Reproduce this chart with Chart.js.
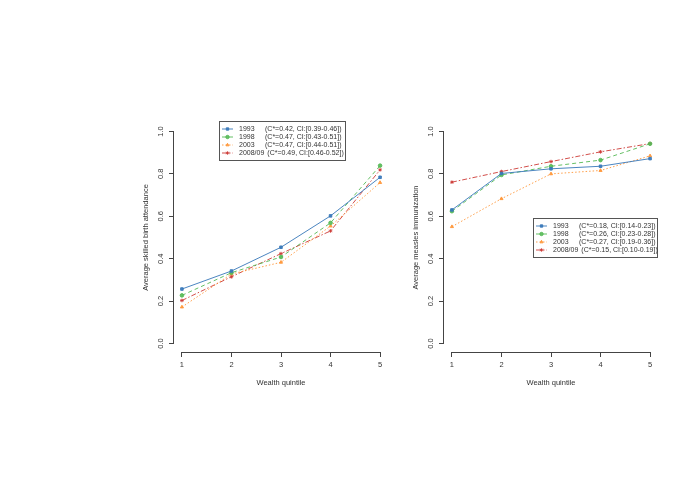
<!DOCTYPE html>
<html>
<head>
<meta charset="utf-8">
<script src="https://cdn.jsdelivr.net/npm/chart.js@4.4.1/dist/chart.umd.min.js"></script>
<style>
  body { margin: 0; background: #fff; width: 685px; height: 484px; overflow: hidden; position: relative; }
  canvas { position: absolute; }
</style>
</head>
<body>
<canvas id="birth"></canvas>
<canvas id="measles"></canvas>
<script>
// x categories (wealth quintile) and y ticks
const quintiles = [1, 2, 3, 4, 5];
const yTicks = [0, 0.2, 0.4, 0.6, 0.8, 1.0];
const years = ['1993', '1998', '2003', '2008/09'];

// left panel: skilled birth attendance
const birth1993 = [0.257, 0.342, 0.454, 0.602, 0.784];
const birth1998 = [0.227, 0.334, 0.408, 0.569, 0.839];
const birth2003 = [0.172, 0.328, 0.383, 0.554, 0.759];
const birth2008 = [0.203, 0.315, 0.424, 0.531, 0.819];
const birthStats = ['(C*=0.42, CI:[0.39-0.46])', '(C*=0.47, CI:[0.43-0.51])',
                    '(C*=0.47, CI:[0.44-0.51])', '(C*=0.49, CI:[0.46-0.52])'];

// right panel: measles immunization
const measles1993 = [0.630, 0.802, 0.824, 0.836, 0.872];
const measles1998 = [0.624, 0.795, 0.836, 0.865, 0.942];
const measles2003 = [0.551, 0.683, 0.800, 0.816, 0.885];
const measles2008 = [0.761, 0.811, 0.858, 0.904, 0.943];
const measlesStats = ['(C*=0.18, CI:[0.14-0.23])', '(C*=0.26, CI:[0.23-0.28])',
                      '(C*=0.27, CI:[0.19-0.36])', '(C*=0.15, CI:[0.10-0.19])'];

// per-series look
const colors = ['rgba(55,120,185,0.9)', 'rgba(85,185,85,0.9)', 'rgba(255,150,55,0.9)', 'rgba(205,60,55,0.9)'];
const dashes = [[], [4, 3], [1.5, 2], [5, 2, 1.5, 2]];
const markers = ['rect', 'circle', 'triangle', 'star'];

const FONT = '"Liberation Sans", Arial, sans-serif';
const INK = '#444';

// R style axes: line only from first to last tick
const rAxes = {
  id: 'rAxes',
  afterDraw(chart) {
    const { ctx, scales: { x, y } } = chart;
    ctx.save();
    ctx.strokeStyle = INK;
    ctx.lineWidth = 1;
    ctx.beginPath();
    const ay = Math.round(x.top) + 0.5;
    ctx.moveTo(x.getPixelForValue(quintiles[0]), ay);
    ctx.lineTo(x.getPixelForValue(quintiles[quintiles.length - 1]), ay);
    const ax = Math.round(y.right) - 0.5;
    ctx.moveTo(ax, y.getPixelForValue(yTicks[0]));
    ctx.lineTo(ax, y.getPixelForValue(yTicks[yTicks.length - 1]));
    ctx.stroke();
    ctx.restore();
  }
};

// boxed legend like R's legend()
const boxLegend = {
  id: 'boxLegend',
  afterDraw(chart, args, opts) {
    const ctx = chart.ctx;
    const { x, y, w, h, stats } = opts;
    ctx.save();
    ctx.fillStyle = '#fff';
    ctx.fillRect(x, y, w, h);
    ctx.strokeStyle = '#555';
    ctx.lineWidth = 1;
    ctx.strokeRect(x + 0.5, y + 0.5, w, h);
    ctx.font = '7px ' + FONT;
    ctx.textBaseline = 'middle';
    chart.data.datasets.forEach((ds, i) => {
      const ry = y + 8 + i * 8;
      ctx.strokeStyle = ds.borderColor;
      ctx.setLineDash(ds.borderDash);
      ctx.beginPath();
      ctx.moveTo(x + 3, ry);
      ctx.lineTo(x + 14, ry);
      ctx.stroke();
      ctx.setLineDash([]);
      ctx.fillStyle = ds.backgroundColor;
      Chart.helpers.drawPoint(ctx, { pointStyle: ds.pointStyle, radius: 1.7, borderWidth: 1, rotation: 0 }, x + 8.5, ry);
      ctx.fillStyle = '#333';
      ctx.fillText(ds.label, x + 20, ry);
      const sx = Math.max(x + 46, x + 20 + ctx.measureText(ds.label).width + 3);
      ctx.fillText(stats[i], sx, ry);
    });
    ctx.restore();
  }
};

function makeChart(id, area, series, stats, yTitle, box) {
  const canvas = document.getElementById(id);
  const left = area.l - 40, top = area.t - 20;
  const width = area.r - area.l + 46, height = area.b - area.t + 60;
  canvas.width = width; canvas.height = height;
  canvas.style.left = left + 'px'; canvas.style.top = top + 'px';
  canvas.style.width = width + 'px'; canvas.style.height = height + 'px';

  const datasets = series.map((vals, i) => ({
    label: years[i],
    data: quintiles.map((q, k) => ({ x: q, y: vals[k] })),
    borderColor: colors[i],
    backgroundColor: colors[i],
    borderWidth: 1,
    borderDash: dashes[i],
    pointStyle: markers[i],
    pointRadius: 1.8,
    pointBorderWidth: 1,
    tension: 0
  }));

  return new Chart(canvas, {
    type: 'line',
    data: { datasets },
    plugins: [rAxes, boxLegend],
    options: {
      responsive: false,
      animation: false,
      devicePixelRatio: 1,
      layout: { padding: { top: 20, right: 6, bottom: 0, left: 0 } },
      plugins: {
        legend: { display: false },
        tooltip: { enabled: false },
        boxLegend: { x: box.x - left, y: box.y - top, w: box.w, h: box.h, stats }
      },
      scales: {
        x: {
          type: 'linear',
          min: 0.84, max: 5.16,
          afterBuildTicks: s => { s.ticks = quintiles.map(v => ({ value: v })); },
          afterFit: s => { s.height = 40; },
          border: { display: false },
          grid: { drawOnChartArea: false, drawTicks: true, tickLength: 5, color: INK },
          ticks: { font: { size: 7.5, family: FONT }, color: '#333', padding: 3, maxRotation: 0 },
          title: { display: true, text: 'Wealth quintile', font: { size: 7.5, family: FONT }, color: '#333', padding: { top: 0, bottom: 5 } }
        },
        y: {
          min: -0.04, max: 1.04,
          afterBuildTicks: s => { s.ticks = yTicks.map(v => ({ value: v })); },
          afterFit: s => { s.width = 40; },
          border: { display: false },
          grid: { drawOnChartArea: false, drawTicks: true, tickLength: 5, color: INK },
          ticks: { font: { size: 7.5, family: FONT }, color: '#333', padding: 3, minRotation: 90, maxRotation: 90,
                   crossAlign: 'center', callback: v => v.toFixed(1) },
          title: { display: true, text: yTitle, font: { size: 7.5, family: FONT }, color: '#333', padding: { top: 7, bottom: 0 } }
        }
      }
    }
  });
}

makeChart('birth', { l: 174, r: 388, t: 123, b: 352 },
  [birth1993, birth1998, birth2003, birth2008], birthStats,
  'Average skilled birth attendance', { x: 219, y: 121, w: 126, h: 39 });

makeChart('measles', { l: 444, r: 658, t: 123, b: 352 },
  [measles1993, measles1998, measles2003, measles2008], measlesStats,
  'Average measles immunization', { x: 533, y: 218, w: 124, h: 39 });
</script>
</body>
</html>
